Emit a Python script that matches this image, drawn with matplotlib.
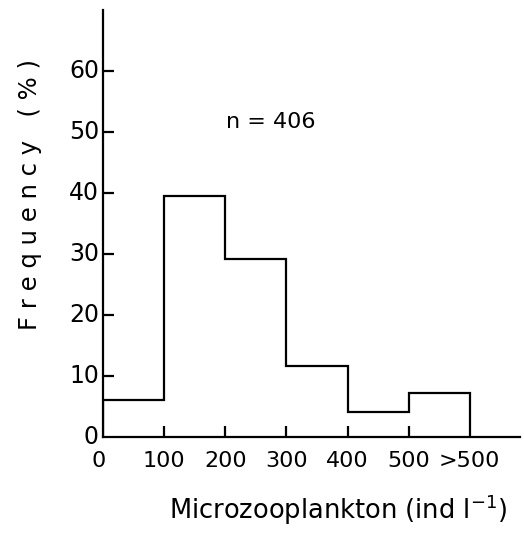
import numpy as np
import matplotlib
matplotlib.use('Agg')
import matplotlib.pyplot as plt

# histogram
bin_edges = [0, 100, 200, 300, 400, 500, 600]
freq_pct = [6.1, 39.5, 29.2, 11.6, 4.1, 7.2]
x_ticks = [100, 200, 300, 400, 500]
x_labels = ['0', '100', '200', '300', '400', '500', '>500']
x_label_pos = [0, 100, 200, 300, 400, 500, 600]
y_ticks = [10, 20, 30, 40, 50, 60]
n_obs = 406

plt.rcParams['font.family'] = 'DejaVu Sans'

fig = plt.figure(figsize=(5.24, 5.34), dpi=100)
ax = fig.add_axes([0.197, 0.182, 0.796, 0.80])

ax.stairs(freq_pct, bin_edges, baseline=0, color='black', linewidth=1.6)

ax.set_xlim(0, 683)
ax.set_ylim(0, 70)

for s in ['top', 'right']:
    ax.spines[s].set_visible(False)
for s in ['left', 'bottom']:
    ax.spines[s].set_linewidth(1.6)

ax.set_xticks(x_ticks)
ax.set_xticklabels([])
ax.set_yticks(y_ticks)
ax.set_yticklabels([])
ax.tick_params(direction='in', length=8, width=1.6)

# tick labels drawn as text so 0 and >500 can sit without ticks
for xp, lab in zip(x_label_pos, x_labels):
    ax.text(xp if xp else -8, -2.3, lab, ha='center', va='top', fontsize=16)
for yv in [0] + y_ticks:
    ax.text(-7, yv, str(yv), ha='right', va='center', fontsize=17)

ax.text(275, 51.6, f'n = {n_obs}', ha='center', va='center', fontsize=16)

fig.text(0.057, 0.635, 'F r e q u e n c y   ( % )', rotation=90,
         ha='center', va='center', fontsize=17.5)
fig.text(0.645, 0.045, r'Microzooplankton (ind l$^{-1}$)',
         ha='center', va='center', fontsize=18.5)

fig.savefig('out.png', dpi=100)
